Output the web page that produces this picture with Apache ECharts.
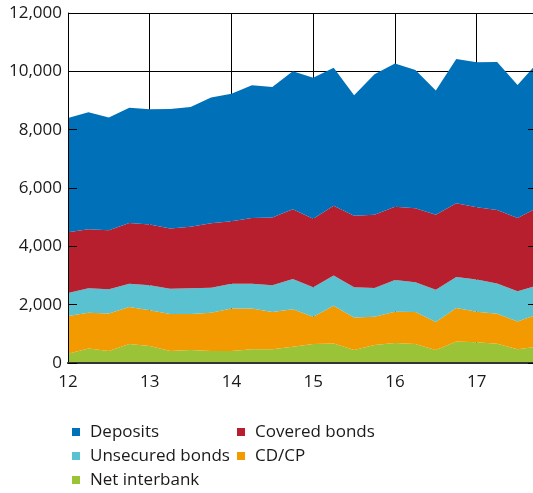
<!DOCTYPE html>
<html>
<head>
<meta charset="utf-8">
<script src="https://cdn.jsdelivr.net/npm/echarts@6/dist/echarts.min.js"></script>
<style>
  html, body { margin: 0; padding: 0; background: #fff; }
  #chart { width: 533px; height: 493px; }
</style>
</head>
<body>
<div id="chart"></div>
<script>
// Quarterly observations, 2012 Q1 to 2017 Q4
const quarters = [
  '12', '12Q2', '12Q3', '12Q4',
  '13', '13Q2', '13Q3', '13Q4',
  '14', '14Q2', '14Q3', '14Q4',
  '15', '15Q2', '15Q3', '15Q4',
  '16', '16Q2', '16Q3', '16Q4',
  '17', '17Q2', '17Q3', '17Q4'
];

// Funding by source (stacked, bottom to top)
const netInterbank = [320, 500, 410, 650, 580, 410, 450, 410, 410, 470, 470, 560, 650, 670, 450, 620, 690, 650, 450, 740, 710, 660, 470, 560];
const cdCp = [1290, 1220, 1290, 1270, 1230, 1270, 1230, 1310, 1460, 1400, 1280, 1280, 940, 1290, 1110, 970, 1070, 1100, 960, 1150, 1050, 1030, 950, 1110];
const unsecuredBonds = [790, 840, 830, 800, 860, 870, 880, 860, 850, 850, 920, 1040, 1010, 1040, 1040, 980, 1090, 1020, 1100, 1060, 1100, 1040, 1040, 990];
const coveredBonds = [2080, 2030, 2020, 2080, 2080, 2060, 2110, 2210, 2140, 2250, 2320, 2390, 2350, 2390, 2450, 2510, 2510, 2540, 2570, 2530, 2480, 2520, 2510, 2670];
const deposits = [3920, 4010, 3870, 3950, 3950, 4100, 4110, 4310, 4370, 4550, 4470, 4730, 4830, 4730, 4130, 4820, 4910, 4740, 4260, 4940, 4970, 5070, 4560, 4980];

const yTicks = { min: 0, max: 12000, interval: 2000 };

const colors = {
  deposits: '#0070b8',
  covered: '#b81f2e',
  unsecured: '#5ac1d0',
  cdcp: '#f39a00',
  interbank: '#9bc337'
};

const FONT = 'Open Sans';
const TEXT = '#1a1a1a';
const FS = 17;

function area(name, data, color) {
  return {
    name: name,
    type: 'line',
    stack: 'funding',
    data: data,
    symbol: 'none',
    lineStyle: { width: 0 },
    itemStyle: { color: color },
    areaStyle: { color: color, opacity: 1 },
    z: 2
  };
}

function legendColumn(left, names) {
  return {
    orient: 'vertical',
    left: left,
    top: 423,
    height: 70,
    padding: 0,
    itemWidth: 8,
    itemHeight: 8,
    itemGap: 6,
    icon: 'rect',
    data: names,
    textStyle: { color: TEXT, fontSize: FS, fontFamily: FONT, lineHeight: 18, padding: [0, 0, 0, 5] }
  };
}

const chart = echarts.init(document.getElementById('chart'), null, { renderer: 'canvas' });

chart.setOption({
  animation: false,
  backgroundColor: '#fff',
  textStyle: { fontFamily: FONT },
  // the plot runs slightly past the right edge of the canvas
  grid: {
    left: 68, top: 13, width: 470, bottom: 130,
    containLabel: false,
    outerBoundsMode: 'none'
  },
  xAxis: [
    {
      type: 'category',
      data: quarters,
      boundaryGap: false,
      position: 'bottom',
      axisLine: { show: true, lineStyle: { color: '#222', width: 1.5 } },
      axisTick: { show: false },
      axisLabel: {
        interval: 3,
        margin: 11,
        color: TEXT,
        fontSize: FS,
        fontFamily: FONT,
        formatter: v => v.slice(0, 2)
      },
      splitLine: { show: true, interval: 3, lineStyle: { color: '#000', width: 1 } }
    },
    {
      type: 'category',
      data: quarters,
      boundaryGap: false,
      position: 'top',
      z: 5,
      axisLine: { show: true, lineStyle: { color: '#333', width: 2 } },
      axisTick: { show: false },
      axisLabel: { show: false },
      splitLine: { show: false }
    }
  ],
  yAxis: [
    {
      type: 'value',
      position: 'left',
      min: yTicks.min, max: yTicks.max, interval: yTicks.interval,
      z: 5,
      axisLine: { show: true, lineStyle: { color: '#000', width: 1 } },
      axisTick: { show: true, inside: true, length: 9, lineStyle: { color: '#000', width: 1 } },
      axisLabel: {
        margin: 6,
        color: TEXT,
        fontSize: FS,
        fontFamily: FONT,
        formatter: v => v.toLocaleString('en-US')
      },
      splitLine: { show: false }
    },
    {
      type: 'value',
      position: 'right',
      min: yTicks.min, max: yTicks.max, interval: yTicks.interval,
      z: 5,
      axisLine: { show: true, lineStyle: { color: '#000', width: 1 } },
      axisTick: { show: true, inside: true, length: 10, lineStyle: { color: '#000', width: 1 } },
      axisLabel: { show: false },
      splitLine: { show: false }
    },
    {
      type: 'value',
      position: 'left',
      min: yTicks.min, max: yTicks.max, interval: yTicks.interval,
      axisLine: { show: false },
      axisTick: { show: false },
      axisLabel: { show: false },
      splitLine: { show: true, lineStyle: { color: '#000', width: 1 } }
    }
  ],
  legend: [
    legendColumn(72, ['Deposits', 'Unsecured bonds', 'Net interbank']),
    legendColumn(237, ['Covered bonds', 'CD/CP'])
  ],
  series: [
    area('Net interbank', netInterbank, colors.interbank),
    area('CD/CP', cdCp, colors.cdcp),
    area('Unsecured bonds', unsecuredBonds, colors.unsecured),
    area('Covered bonds', coveredBonds, colors.covered),
    area('Deposits', deposits, colors.deposits)
  ]
});
</script>
</body>
</html>
